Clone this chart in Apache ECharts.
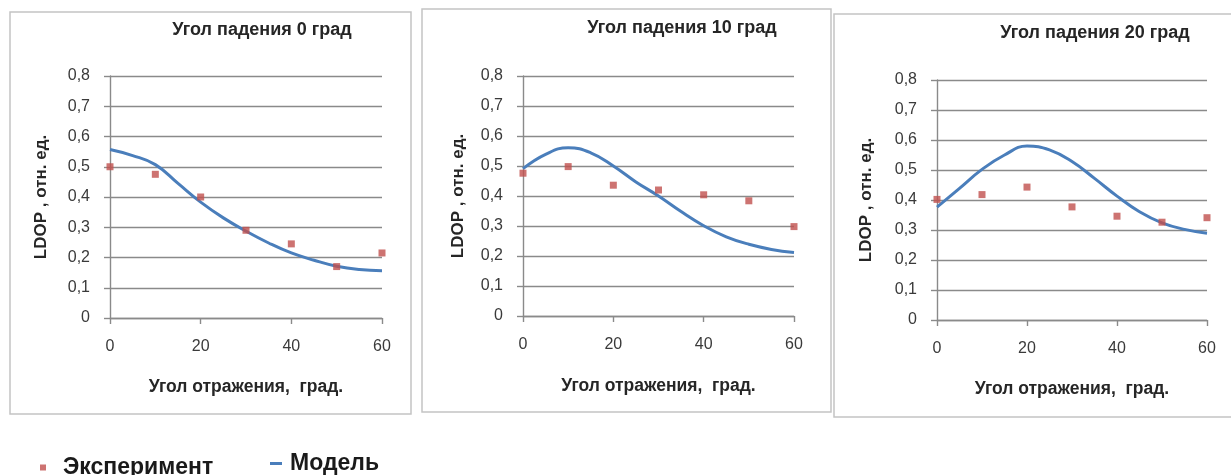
<!DOCTYPE html>
<html><head><meta charset="utf-8">
<script src="https://cdn.jsdelivr.net/npm/echarts@6/dist/echarts.min.js"></script>
<style>html,body{margin:0;padding:0;background:#fff}#c{width:1231px;height:475px}</style>
</head><body><div id="c"></div>
<script>
// ---- data ----
const angles = [0, 10, 20, 30, 40, 50, 60];
const modelAngles = [0, 5, 10, 15, 20, 25, 30, 35, 40, 45, 50, 55, 60];
const panelTitles = ['Угол падения 0 град', 'Угол падения 10 град', 'Угол падения 20 град'];
const exp0  = [0.50, 0.475, 0.40, 0.29, 0.245, 0.17, 0.215];
const exp10 = [0.476, 0.498, 0.436, 0.42, 0.404, 0.384, 0.298];
const exp20 = [0.402, 0.418, 0.443, 0.377, 0.346, 0.326, 0.341];
const model0  = [0.557, 0.537, 0.507, 0.445, 0.383, 0.331, 0.287, 0.248, 0.215, 0.191, 0.171, 0.16, 0.156];
const model10 = [0.491, 0.539, 0.561, 0.544, 0.50, 0.447, 0.40, 0.348, 0.301, 0.264, 0.239, 0.222, 0.212];
const model20 = [0.376, 0.439, 0.502, 0.55, 0.58, 0.567, 0.528, 0.472, 0.413, 0.361, 0.324, 0.302, 0.289];
const yAxisName = 'LDOP , отн. ед.';
const xAxisName = 'Угол отражения,  град.';
const expName = 'Эксперимент';
const modelName = 'Модель';

// ---- layout ----
const FONT = 'Liberation Sans';
const grids = [
  {left: 110, top: 76, width: 272, height: 242},
  {left: 523, top: 76, width: 271, height: 240},
  {left: 937, top: 80, width: 270, height: 240}
];
const yNameGap = [60, 56, 62];
const xNameGap = [60, 61, 60];
const titlePos = [[262, 30], [682, 28], [1095, 33]];
const boxes = [
  {x: 10, y: 12, width: 401, height: 402},
  {x: 422, y: 9, width: 409, height: 403},
  {x: 834, y: 14, width: 400, height: 403}
];
const expSets = [exp0, exp10, exp20];
const modelSets = [model0, model10, model20];
const gridColor = '#8a8a8a';
const expColor = '#c0504d';
const modelColor = '#4a7ebb';
const fmt = v => String(Math.round(v * 10) / 10).replace('.', ',');

const xAxes = [], yAxes = [], series = [], graphics = [];
grids.forEach((g, i) => {
  xAxes.push({
    type: 'value', gridIndex: i, min: 0, max: 60, interval: 20,
    name: xAxisName, nameLocation: 'middle', nameGap: xNameGap[i],
    nameTextStyle: {fontFamily: FONT, fontWeight: 'bold', fontSize: 17.5, color: '#262626'},
    axisLine: {lineStyle: {color: gridColor, width: 1.4}},
    axisTick: {show: true, length: 6, lineStyle: {color: gridColor, width: 1.4}},
    splitLine: {show: false},
    axisLabel: {fontFamily: FONT, fontSize: 16, color: '#3a3a3a', margin: 21}
  });
  yAxes.push({
    type: 'value', gridIndex: i, min: 0, max: 0.8, interval: 0.1,
    name: yAxisName, nameLocation: 'middle', nameGap: yNameGap[i], nameRotate: 90,
    nameTextStyle: {fontFamily: FONT, fontWeight: 'bold', fontSize: 17, color: '#262626'},
    axisLine: {show: true, lineStyle: {color: gridColor, width: 1.4}},
    axisTick: {show: true, length: 6, lineStyle: {color: gridColor, width: 1.4}},
    splitLine: {show: true, lineStyle: {color: gridColor, width: 1.4}},
    axisLabel: {fontFamily: FONT, fontSize: 16, color: '#3a3a3a', margin: 20, formatter: fmt}
  });
  series.push({
    name: modelName, type: 'line', xAxisIndex: i, yAxisIndex: i,
    data: modelAngles.map((a, k) => [a, modelSets[i][k]]),
    smooth: 0.45, showSymbol: false, symbol: 'none',
    lineStyle: {color: modelColor, width: 3}, itemStyle: {color: modelColor}, z: 3
  });
  series.push({
    name: expName, type: 'scatter', xAxisIndex: i, yAxisIndex: i,
    data: angles.map((a, k) => [a, expSets[i][k]]),
    symbol: 'rect', symbolSize: 7,
    itemStyle: {color: expColor}, z: 4
  });
  graphics.push({
    type: 'rect', shape: boxes[i], silent: true,
    style: {fill: 'none', stroke: '#c4c4c4', lineWidth: 1.5}
  });
  graphics.push({
    type: 'text', x: titlePos[i][0], y: titlePos[i][1], silent: true,
    style: {text: panelTitles[i], fontFamily: FONT, fontWeight: 'bold', fontSize: 18,
            fill: '#262626', align: 'center', verticalAlign: 'middle'}
  });
});

const chart = echarts.init(document.getElementById('c'), null, {renderer: 'canvas'});
chart.setOption({
  animation: false,
  backgroundColor: '#ffffff',
  grid: grids.map(g => Object.assign({containLabel: false}, g)),
  xAxis: xAxes,
  yAxis: yAxes,
  series: series,
  graphic: graphics,
  legend: [
    {data: [{name: expName, icon: 'rect', itemStyle: {color: expColor}}], left: 35, top: 451,
     itemWidth: 6, itemHeight: 6,
     textStyle: {fontFamily: FONT, fontWeight: 'bold', fontSize: 23, color: '#1a1a1a', padding: [0, 0, 0, 12]}},
    {data: [{name: modelName, icon: 'rect', itemStyle: {color: modelColor}}], left: 265, top: 447,
     itemWidth: 12, itemHeight: 3,
     textStyle: {fontFamily: FONT, fontWeight: 'bold', fontSize: 23, color: '#1a1a1a', padding: [0, 0, 0, 3]}}
  ]
});
</script></body></html>
